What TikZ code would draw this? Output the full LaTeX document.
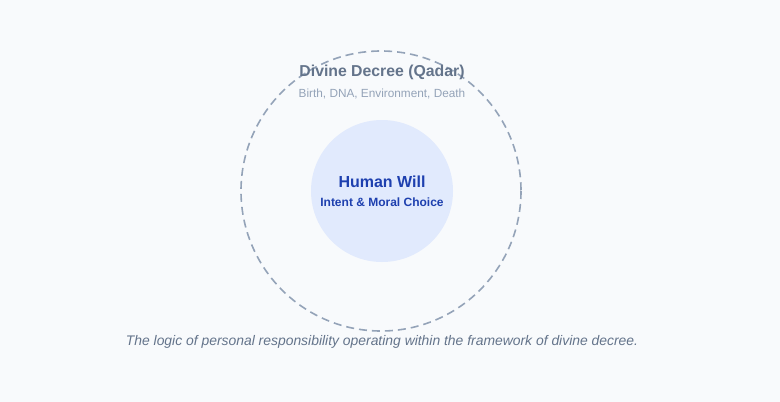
\documentclass[tikz,border=0pt]{standalone}
\usepackage{fontspec}
\setmainfont{Liberation Sans}
\definecolor{PageBg}{RGB}{248,250,252}
\definecolor{DecreeLine}{RGB}{148,163,184}
\definecolor{DecreeText}{RGB}{100,116,139}
\definecolor{WillFill}{RGB}{225,234,253}
\definecolor{WillText}{RGB}{30,64,175}
\tikzset{
  decree/.style={draw=DecreeLine, line width=1.6pt, dash pattern=on 8pt off 5pt},
  will/.style={fill=WillFill, draw=none},
  titletext/.style={font=\bfseries\fontsize{15.8}{18}\selectfont, text=DecreeText},
  subtext/.style={font=\fontsize{11.8}{14}\selectfont, text=DecreeLine},
}

\begin{document}
\begin{tikzpicture}[x=1pt, y=-1pt]

  % --- canvas ---
  \path[fill=PageBg] (0,0) rectangle (780,402);

  % --- (A) Outer circle: divine decree ---
  \begin{scope}
    \coordinate (C) at (381,191);
    \def\r{140}
    \draw[decree] (C) circle (\r);

    \node[titletext] (decree) at (382,72.5) {Divine Decree (Qadar)};
    \node[subtext] (decreeitems) at (382,93.5) {Birth, DNA, Environment, Death};
  \end{scope}

  % --- (B) Inner circle: human will ---
  \begin{scope}
    \coordinate (W) at (382,191);
    \def\r{71}
    \path[will] (W) circle (\r);

    \node[font=\bfseries\fontsize{16}{19}\selectfont, text=WillText] (will) at (382,181.5) {Human Will};
    \node[font=\bfseries\fontsize{12}{14}\selectfont, text=WillText] (willitems) at (382,202.5) {Intent \& Moral Choice};
  \end{scope}

  % caption
  \node[font=\itshape\fontsize{13.9}{17}\selectfont, text=DecreeText] (caption) at (382,341.5)
    {The logic of personal responsibility operating within the framework of divine decree.};

\end{tikzpicture}
\end{document}
